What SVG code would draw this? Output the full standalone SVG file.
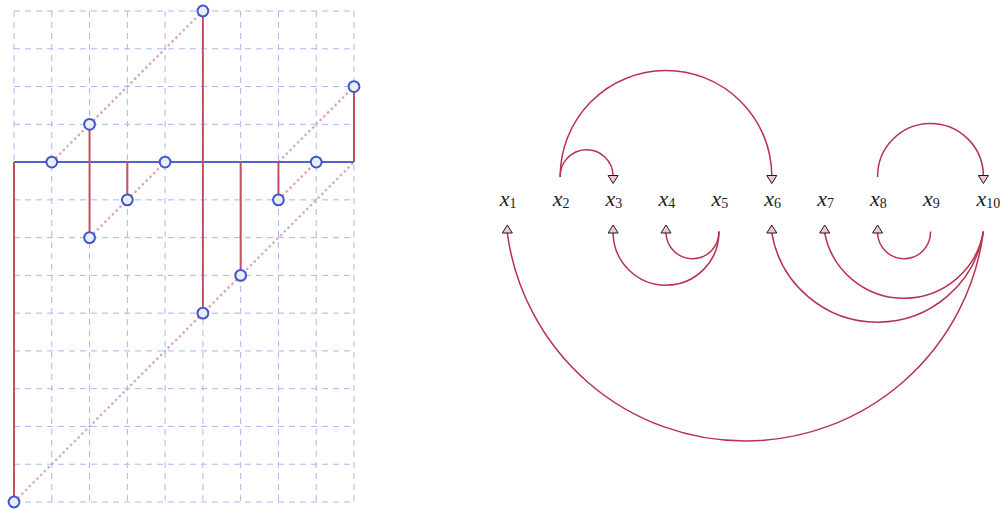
<svg xmlns="http://www.w3.org/2000/svg" width="1003" height="510" viewBox="0 0 1003 510">
<style>
.grid{stroke:#adb6f0;stroke-width:1;stroke-dasharray:6 5;fill:none}
.diag{stroke:#dfa4b6;stroke-width:2.2;stroke-dasharray:2.5 2.8;fill:none}
.red{stroke:#c24f5e;stroke-width:2;fill:none}
.blue{stroke:#4f63cf;stroke-width:2;fill:none}
.pt{fill:#eaeef9;stroke:#4256cc;stroke-width:2}
.arc{stroke:#b8324f;stroke-width:1.5;fill:none}
.up{marker-end:url(#aUp)}
.down{marker-end:url(#aDown)}
.lbl{font-family:"Liberation Serif","DejaVu Serif",serif;font-style:italic;font-size:22px;fill:#222}
.sub{font-style:normal;font-size:14px}
</style>
<defs>
<marker id="aDown" viewBox="-1 -1 10 12" markerUnits="userSpaceOnUse" markerWidth="10" markerHeight="12" refX="0" refY="5" orient="90" overflow="visible">
<path d="M0,0 L8,5 L0,10 Z" fill="#f2c6cf" stroke="#1a1a1a" stroke-width="1"/>
</marker>
<marker id="aUp" viewBox="-1 -1 10 12" markerUnits="userSpaceOnUse" markerWidth="10" markerHeight="12" refX="0" refY="5" orient="-90" overflow="visible">
<path d="M0,0 L8,5 L0,10 Z" fill="#f2c6cf" stroke="#1a1a1a" stroke-width="1"/>
</marker>
</defs>

<g id="grid">
<path class="grid" d="M14,11V502M51.78,11V502M89.56,11V502M127.33,11V502M165.11,11V502M202.89,11V502M240.67,11V502M278.44,11V502M316.22,11V502M354,11V502"/>
<path class="grid" d="M14,11H354M14,48.77H354M14,86.54H354M14,124.31H354M14,162.08H354M14,199.85H354M14,237.62H354M14,275.38H354M14,313.15H354M14,350.92H354M14,388.69H354M14,426.46H354M14,464.23H354M14,502H354"/>
</g>

<g id="diagonals">
<path class="diag" d="M51.78,162.08L202.89,11"/>
<path class="diag" d="M89.56,237.62L165.11,162.08"/>
<path class="diag" d="M14,502L354,162.08"/>
<path class="diag" d="M278.44,199.85L316.22,162.08"/>
<path class="diag" d="M278.44,162.08L354,86.54"/>
</g>

<g id="baseline">
<path class="blue" d="M14,162.08H354"/>
</g>

<g id="stems">
<path class="red" d="M14,162.08V502"/>
<path class="red" d="M89.56,124.31V237.62"/>
<path class="red" d="M127.33,162.08V199.85"/>
<path class="red" d="M202.89,11V313.15"/>
<path class="red" d="M240.67,162.08V275.38"/>
<path class="red" d="M278.44,162.08V199.85"/>
<path class="red" d="M354,86.54V162.08"/>
</g>

<g id="points">
<g id="p1"><circle class="pt" cx="51.78" cy="162.08" r="5.4"/></g>
<g id="p2"><circle class="pt" cx="89.56" cy="124.31" r="5.4"/></g>
<g id="p3"><circle class="pt" cx="89.56" cy="237.62" r="5.4"/></g>
<g id="p4"><circle class="pt" cx="127.33" cy="199.85" r="5.4"/></g>
<g id="p5"><circle class="pt" cx="165.11" cy="162.08" r="5.4"/></g>
<g id="p6"><circle class="pt" cx="202.89" cy="11" r="5.4"/></g>
<g id="p7"><circle class="pt" cx="202.89" cy="313.15" r="5.4"/></g>
<g id="p8"><circle class="pt" cx="240.67" cy="275.38" r="5.4"/></g>
<g id="p9"><circle class="pt" cx="278.44" cy="199.85" r="5.4"/></g>
<g id="p10"><circle class="pt" cx="316.22" cy="162.08" r="5.4"/></g>
<g id="p11"><circle class="pt" cx="354" cy="86.54" r="5.4"/></g>
<g id="p12"><circle class="pt" cx="14" cy="502" r="5.4"/></g>
</g>

<g id="connectors">
<path class="arc down" d="M560.2,177 A26.45,26.45 0 0 1 613.1,175.5"/>
<path class="arc down" d="M560.2,177 A105.8,105.8 0 0 1 771.8,175.5"/>
<path class="arc down" d="M877.6,177 A52.9,52.9 0 0 1 983.4,175.5"/>
<path class="arc up" d="M718.9,231.5 A26.45,26.45 0 0 1 666,233"/>
<path class="arc up" d="M718.9,231.5 A52.9,52.9 0 0 1 613.1,233"/>
<path class="arc up" d="M930.5,231.5 A26.45,26.45 0 0 1 877.6,233"/>
<path class="arc up" d="M983.4,231.5 A80.7,80.7 0 0 1 824.7,233"/>
<path class="arc up" d="M983.4,231.5 A107.2,107.2 0 0 1 771.8,233"/>
<path class="arc up" d="M983.4,231.5 A240.1,240.1 0 0 1 507.3,233"/>
</g>

<g id="x1"><text class="lbl" x="499.8" y="205.5">x<tspan class="sub" dy="2">1</tspan></text></g>
<g id="x2"><text class="lbl" x="552.7" y="205.5">x<tspan class="sub" dy="2">2</tspan></text></g>
<g id="x3"><text class="lbl" x="605.6" y="205.5">x<tspan class="sub" dy="2">3</tspan></text></g>
<g id="x4"><text class="lbl" x="658.5" y="205.5">x<tspan class="sub" dy="2">4</tspan></text></g>
<g id="x5"><text class="lbl" x="711.4" y="205.5">x<tspan class="sub" dy="2">5</tspan></text></g>
<g id="x6"><text class="lbl" x="764.3" y="205.5">x<tspan class="sub" dy="2">6</tspan></text></g>
<g id="x7"><text class="lbl" x="817.2" y="205.5">x<tspan class="sub" dy="2">7</tspan></text></g>
<g id="x8"><text class="lbl" x="870.1" y="205.5">x<tspan class="sub" dy="2">8</tspan></text></g>
<g id="x9"><text class="lbl" x="923" y="205.5">x<tspan class="sub" dy="2">9</tspan></text></g>
<g id="x10"><text class="lbl" x="976.4" y="205.5">x<tspan class="sub" dy="2">10</tspan></text></g>
</svg>
